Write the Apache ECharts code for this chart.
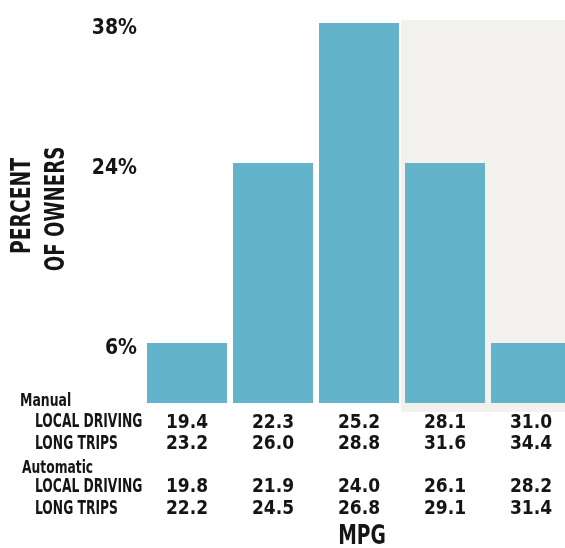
<!DOCTYPE html>
<html>
<head>
<meta charset="utf-8">
<script src="https://cdn.jsdelivr.net/npm/echarts@6/dist/echarts.min.js"></script>
<style>
  html, body { margin: 0; padding: 0; background: #fff; }
  #mpgChart { width: 565px; height: 548px; }
</style>
</head>
<body>
<div id="mpgChart"></div>
<script>
  // 各档位车主占比
  const percentOwners = [6, 24, 38, 24, 6]
  const yTicks = [6, 24, 38]
  // 每档对应的油耗 (MPG)
  const manualLocal = ['19.4', '22.3', '25.2', '28.1', '31.0']
  const manualLong = ['23.2', '26.0', '28.8', '31.6', '34.4']
  const autoLocal = ['19.8', '21.9', '24.0', '26.1', '28.2']
  const autoLong = ['22.2', '24.5', '26.8', '29.1', '31.4']
  const rowLabels = ['Manual', 'LOCAL DRIVING', 'LONG TRIPS', 'Automatic', 'LOCAL DRIVING', 'LONG TRIPS']

  const narrow = '"DejaVu Sans Condensed", "DejaVu Sans", sans-serif'
  const ink = '#151515'

  // 没有窄体字，用 scaleX 压扁
  const squeezed = (text, x, y, size, scaleX, extra) => ({
    type: 'text',
    x: x,
    y: y,
    scaleX: scaleX,
    rotation: (extra && extra.rotation) || 0,
    style: {
      text: text,
      fill: ink,
      font: `bold ${size}px ${narrow}`,
      textAlign: (extra && extra.align) || 'left',
      textVerticalAlign: 'middle',
    },
  })

  const rowPos = [
    { x: 20, y: 401, size: 18, sx: 0.77 },
    { x: 35, y: 422, size: 20, sx: 0.685 },
    { x: 35, y: 444, size: 20, sx: 0.685 },
    { x: 22, y: 468, size: 18, sx: 0.76 },
    { x: 35, y: 487, size: 20, sx: 0.685 },
    { x: 35, y: 509, size: 20, sx: 0.685 },
  ]
  const rowTexts = rowPos.map((p, i) => squeezed(rowLabels[i], p.x, p.y, p.size, p.sx))

  const titleTexts = [
    squeezed('PERCENT', 23, 206, 27, 0.77, { rotation: Math.PI / 2, align: 'center' }),
    squeezed('OF OWNERS', 57, 209, 27, 0.75, { rotation: Math.PI / 2, align: 'center' }),
    squeezed('MPG', 362, 537, 26, 0.8, { align: 'center' }),
  ]

  const mychart = echarts.init(document.getElementById('mpgChart'))
  const option = {
    animation: false,
    backgroundColor: '#fff',
    grid: { left: 144, top: 23, width: 430, height: 380, containLabel: false, outerBoundsMode: 'none' },
    graphic: [
      // 纸张右侧的浅灰底色
      { type: 'rect', z: -10, shape: { x: 401, y: 20, width: 164, height: 392 }, style: { fill: '#f2f1ee' } },
      ...rowTexts,
      ...titleTexts,
    ],
    xAxis: {
      type: 'category',
      data: manualLocal,
      axisLine: { show: false },
      axisTick: { show: false },
      axisLabel: {
        margin: 9,
        interval: 0,
        lineHeight: 21.5,
        color: ink,
        fontFamily: narrow,
        fontWeight: 'bold',
        fontSize: 19,
        formatter: (val, idx) => [manualLocal[idx], manualLong[idx], '', autoLocal[idx], autoLong[idx]].join('\n'),
      },
    },
    yAxis: {
      type: 'value',
      min: 0,
      max: 38,
      splitLine: { show: false },
      axisLine: { show: false },
      axisTick: { show: false },
      axisLabel: {
        customValues: yTicks,
        margin: 7,
        verticalAlign: 'top',
        lineHeight: 12,
        color: ink,
        fontFamily: narrow,
        fontWeight: 'bold',
        fontSize: 21,
        formatter: '{value}%',
      },
    },
    series: [
      {
        type: 'bar',
        data: percentOwners,
        barCategoryGap: '7%',
        itemStyle: { color: '#63b4ca' },
      },
    ],
  }
  mychart.setOption(option)
</script>
</body>
</html>
